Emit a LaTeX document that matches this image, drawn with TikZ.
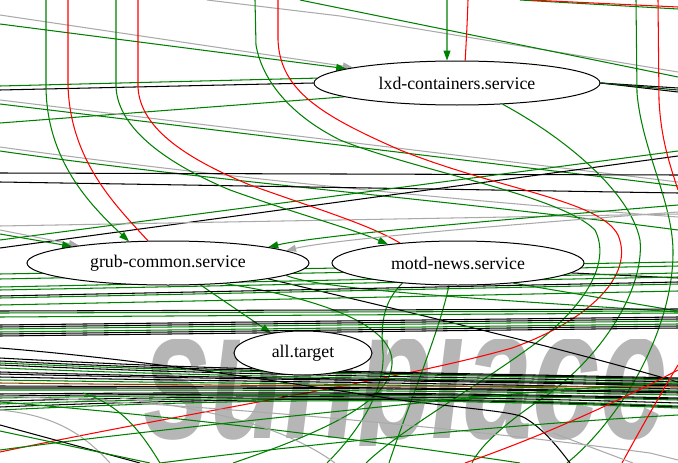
\documentclass[tikz,border=0pt]{standalone}
\usepackage{fontspec}
\setmainfont{Liberation Serif}
\setsansfont{Liberation Sans}
\usetikzlibrary{shapes.geometric,arrows.meta}
\definecolor{eg}{RGB}{0,128,0}
\definecolor{egray}{RGB}{170,170,170}
\definecolor{ebrown}{RGB}{140,70,0}
\definecolor{wm}{RGB}{182,182,182}
\pgfdeclarelayer{wmk}
\pgfdeclarelayer{edges}
\pgfsetlayers{wmk,edges,main}
\begin{document}
\begin{tikzpicture}[x=1pt,y=-1pt,
 eline/.style={line width=1.05pt},
 eG/.style={eline,draw=eg}, eK/.style={eline,draw=black}, eR/.style={eline,draw=red},
 eA/.style={eline,draw=egray}, eB/.style={eline,draw=ebrown},
 headed/.style={-{Triangle[length=10pt,width=7pt]}},
 svc/.style={ellipse,draw=black,fill=white,line width=1pt,minimum height=44pt,inner sep=0pt,font=\fontsize{17.8}{20}\selectfont},
 wmtext/.style={anchor=base west,inner sep=0pt,text=wm,font=\sffamily\bfseries\itshape\fontsize{186}{186}\selectfont,xscale=0.65}]
\useasboundingbox (0,0) rectangle (678,463);
% nodes
\node[svc,minimum width=286pt] (lxd) at (457,83) {lxd-containers.service};
\node[svc,minimum width=282pt] (grub) at (168,263) {grub-common.service};
\node[svc,minimum width=252pt] (motd) at (458,263) {motd-news.service};
\node[svc,minimum width=138pt] (all) at (303,353) {all.target};
% watermark
\begin{pgfonlayer}{wmk}
\fill[white] (0,0) rectangle (678,463);
\begin{scope}
\clip (0,339) rectangle (678,445);
\node[wmtext] (wmark) at (143,438) {sunplace};
\end{scope}
\end{pgfonlayer}
\begin{pgfonlayer}{edges}
% top lines
\draw[eA] (207,0) -- (340,16) -- (678,72);
\draw[eG] (300,0) -- (678,77);
\draw[eG] (520,0) -- (678,9);
\draw[eR] (530,0) -- (678,7);
% arrows into lxd
\draw[eA,headed] (0,15) -- (lxd);
\draw[eG,headed] (0,24) -- (lxd);
\draw[eG,headed] (447,0) -- (lxd.114);
\draw[eR] (468,0) .. controls (467,30) and (466,45) .. (lxd.70);
% lxd sides
\draw[eK] (lxd.west) -- (0,90);
\draw[eG] (lxd.178) -- (0,86);
\draw[eG] (lxd.187) -- (0,123);
\draw[eK] (lxd.east) -- (678,88);
\draw[eK] (lxd.east) -- (678,92);
\draw[eline,draw=eg!50!black] (lxd.east) -- (678,90);
% long diagonals
\draw[eA] (0,100) -- (678,182);
\draw[eG] (0,104) -- (678,186);
\draw[eA] (0,147) .. controls (200,175) and (450,200) .. (678,217);
\draw[eG] (0,151) .. controls (200,180) and (450,200) .. (678,230);
\draw[eK] (0,173) -- (678,175);
\draw[eK] (0,182) -- (678,193);
\draw[eG] (0,240) -- (678,151);
\draw[eK] (0,248) -- (678,156);
\draw[eA] (0,226) -- (678,214);
% verticals on the left into grub and motd
\draw[eG,headed] (46,0) -- (46,85) .. controls (46,160) and (90,205) .. (grub.151);
\draw[eR] (68,0) -- (68,85) .. controls (70,160) and (115,205) .. (grub.132);
\draw[eG,headed] (116,0) -- (116,87) .. controls (118,130) and (170,165) .. (230,190) .. controls (300,215) and (350,228) .. (motd.165);
\draw[eR] (138,0) -- (138,87) .. controls (140,130) and (190,160) .. (250,185) .. controls (320,210) and (370,225) .. (motd.161);
% big curves
\draw[eG] (255,0) -- (256,45) .. controls (262,80) and (290,115) .. (340,140) .. controls (420,172) and (560,195) .. (595,230) .. controls (610,260) and (590,300) .. (540,340) .. controls (480,385) and (400,430) .. (366,463);
\draw[eR] (278,0) -- (278,40) .. controls (280,90) and (320,115) .. (400,150) .. controls (500,190) and (600,200) .. (618,235) .. controls (635,275) and (590,320) .. (512,348) .. controls (400,380) and (200,410) .. (0,452);
\draw[eG] (lxd.-25) .. controls (560,135) and (630,190) .. (640,240) .. controls (645,290) and (600,360) .. (540,400) .. controls (510,420) and (480,445) .. (472,463);
\draw[eG] (636,0) -- (637,93) .. controls (642,150) and (672,200) .. (673,250) .. controls (674,330) and (620,420) .. (567,463);
\draw[eR] (658,0) -- (659,100) .. controls (661,140) and (670,165) .. (678,190);
% arrows into grub
\draw[eA,headed] (0,230) -- (grub);
\draw[eG,headed] (0,234) -- (grub);
\draw[eG,headed] (678,205) .. controls (500,220) and (320,235) .. (grub.9);
\draw[eA,headed] (678,212) .. controls (500,225) and (330,240) .. (grub.6);
\draw[eG,headed] (grub.-34) -- (all.148);
% lines behind grub / motd
\draw[eG] (0,274) -- (678,262);
\draw[eG] (0,279) -- (678,266);
% from grub and motd
\draw[eK] (grub.-9) .. controls (400,310) and (550,345) .. (678,382);
\draw[eG] (grub.-6) .. controls (320,290) and (500,300) .. (678,312);
\draw[eK] (motd.-5) -- (678,278);
\draw[eG] (motd.-20) -- (678,311);
\draw[eG] (motd.248) .. controls (440,330) and (410,400) .. (389,463);
\draw[eG] (grub.-20) .. controls (300,295) and (395,320) .. (392,364) .. controls (390,400) and (330,430) .. (233,463);
\draw[eG] (motd.200) .. controls (385,300) and (380,320) .. (383,353) .. controls (385,390) and (360,430) .. (327,463);
% band A
\foreach \yl/\yr/\c in {287/273/eg,290/277/eg,296/282/black,298/284/eg,305/291/eg,311/309/black,313/311/eg,317/313/eg,325/317/black,327/319/black,329/321/eg,332/324/eg,334/326/black,336/328/black}
  \draw[eline,draw=\c] (0,\yl) -- (678,\yr);
% band B
\foreach \yl/\ym/\yr/\c in {358/372/378/black,361/373/379/black,363/374/380/eg,365/376/382/black,368/378/384/eg,372/379/385/black,374/380/386/black,377/382/389/black,380/384/391/eg,383/386/387/ebrown,386/387/392/black,388/388/393/black,390/390/395/eg,394/392/398/black,396/393/399/black,398/394/400/eg,401/395/403/black,404/396/406/eg,407/397/407/black,410/398/408/eg}
  \draw[eline,draw=\c] (0,\yl) .. controls (250,\ym) and (420,\ym) .. (678,\yr);
% kinked black
\draw[eK] (0,348) .. controls (150,360) and (300,385) .. (400,400) .. controls (480,410) and (515,412) .. (525,418) .. controls (545,430) and (560,450) .. (570,463);
% lower lines
\draw[eG] (0,402) .. controls (200,418) and (400,445) .. (520,463);
\draw[eA] (0,410) .. controls (50,415) and (80,430) .. (110,463);
\draw[eA] (0,396) .. controls (150,402) and (400,420) .. (650,453) -- (678,460);
\draw[eA] (120,398) .. controls (220,410) and (290,430) .. (335,463);
\draw[eK] (0,425) -- (140,463);
\draw[eG] (0,431) -- (150,463);
\draw[eG] (83,393) .. controls (120,405) and (140,430) .. (160,463);
\draw[eG] (0,450) .. controls (150,430) and (350,410) .. (478,397) .. controls (560,390) and (620,385) .. (678,383);
\draw[eG] (160,463) .. controls (300,445) and (500,425) .. (678,415);
\draw[eR] (465,463) .. controls (560,430) and (640,390) .. (678,370);
\draw[eR] (622,463) .. controls (640,430) and (660,395) .. (678,365);
\draw[eA] (553,433) -- (633,463);
\end{pgfonlayer}
\end{tikzpicture}
\end{document}
